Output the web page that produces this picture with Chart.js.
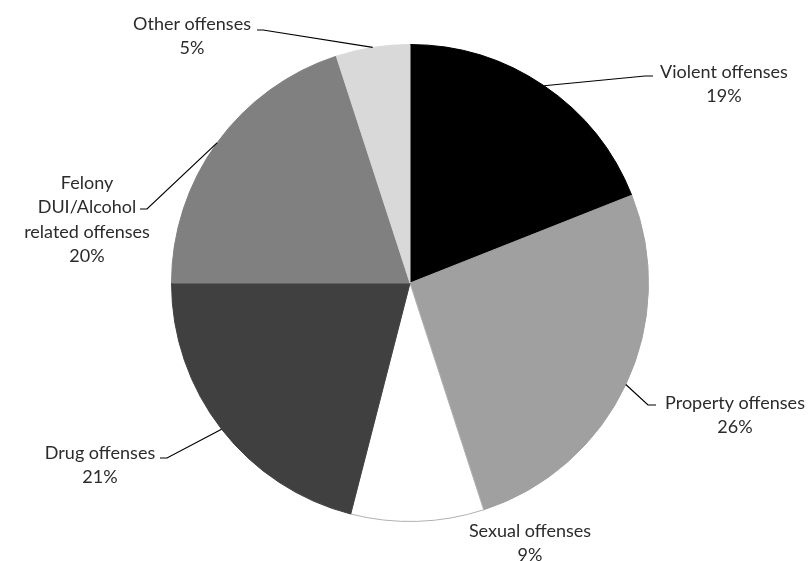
<!DOCTYPE html>
<html>
<head>
<meta charset="utf-8">
<script src="https://cdn.jsdelivr.net/npm/chart.js@4/dist/chart.umd.min.js"></script>
<style>
  html, body { margin: 0; padding: 0; background: #fff; }
  #wrap { width: 812px; height: 561px; }
</style>
</head>
<body>
<div id="wrap"><canvas id="pie" width="812" height="561"></canvas></div>
<script>
const categories = ["Violent offenses", "Property offenses", "Sexual offenses", "Drug offenses", "Felony DUI/Alcohol related offenses", "Other offenses"];
const shares = [19, 26, 9, 21, 20, 5];
const colors = ["#000000", "#a0a0a0", "#ffffff", "#404040", "#808080", "#d9d9d9"];

// label text blocks + leader layout (pixel placement only)
const labelLayout = [
  { lines: ["Violent offenses"], cx: 724, y: 72, elbow: [645, 76], end: [653, 76] },
  { lines: ["Property offenses"], cx: 735, y: 403, elbow: [648, 405], end: [656, 405] },
  { lines: ["Sexual offenses"], cx: 530, y: 531, elbow: null },
  { lines: ["Drug offenses"], cx: 100, y: 453, elbow: [167, 458], end: [160, 458] },
  { lines: ["Felony", "DUI/Alcohol", "related offenses"], cx: 87, y: 183, elbow: [147, 209], end: [140, 209] },
  { lines: ["Other offenses"], cx: 192, y: 24, elbow: [263, 30], end: [257, 30] }
];

const leaderLabels = {
  id: "leaderLabels",
  afterDraw(chart) {
    const ctx = chart.ctx;
    const arcs = chart.getDatasetMeta(0).data;
    ctx.save();
    ctx.font = "18px Lato";
    ctx.fillStyle = "#2b2b2b";
    ctx.textAlign = "center";
    ctx.textBaseline = "middle";
    ctx.strokeStyle = "#000";
    ctx.lineWidth = 1.2;
    arcs.forEach((arc, i) => {
      const L = labelLayout[i];
      const mid = (arc.startAngle + arc.endAngle) / 2;
      const ax = arc.x + Math.cos(mid) * arc.outerRadius;
      const ay = arc.y + Math.sin(mid) * arc.outerRadius;
      if (L.elbow) {
        ctx.beginPath();
        ctx.moveTo(ax, ay);
        ctx.lineTo(L.elbow[0], L.elbow[1]);
        ctx.lineTo(L.end[0], L.end[1]);
        ctx.stroke();
      }
      const lines = L.lines.concat([shares[i] + "%"]);
      lines.forEach((t, k) => ctx.fillText(t, L.cx, L.y + k * 24.5));
    });
    ctx.restore();
  }
};

new Chart(document.getElementById("pie"), {
  type: "pie",
  data: {
    labels: categories,
    datasets: [{
      data: shares,
      backgroundColor: colors,
      borderColor: ["#000000", "#a0a0a0", "#b0b0b0", "#404040", "#808080", "#d9d9d9"],
      borderWidth: 1
    }]
  },
  options: {
    responsive: false,
    animation: false,
    layout: { padding: { top: 44, bottom: 39, left: 8, right: 0 } },
    plugins: {
      legend: { display: false },
      tooltip: { enabled: false }
    }
  },
  plugins: [leaderLabels]
});
</script>
</body>
</html>
